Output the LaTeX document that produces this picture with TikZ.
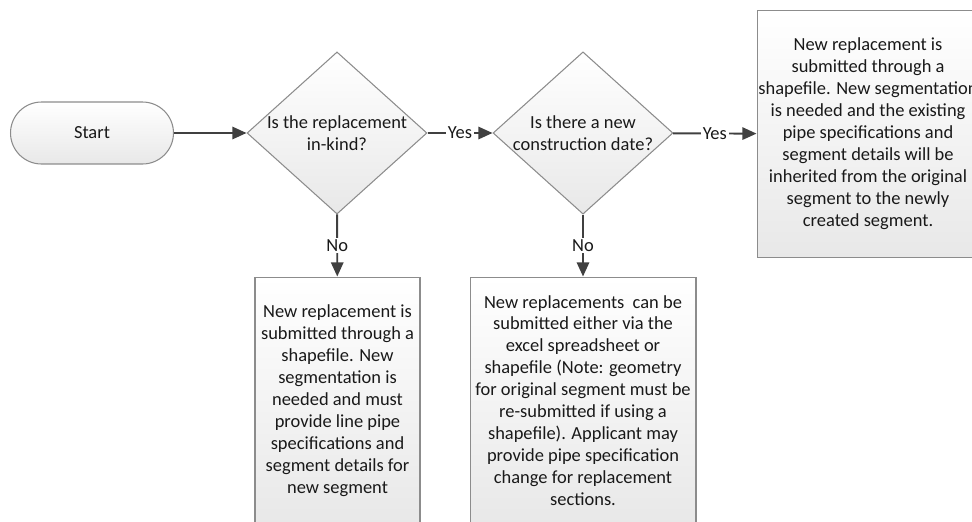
\documentclass[tikz,border=0pt]{standalone}
\usepackage{fontspec}
\setmainfont{Carlito}
\usetikzlibrary{arrows.meta, shapes.geometric, shapes.misc}

\begin{document}
\begin{tikzpicture}[x=0.02cm, y=-0.02cm,
  font=\fontsize{10.5pt}{12.5pt}\selectfont, text=black!90,
  block/.style={draw=black!45, line width=0.6pt, top color=white, bottom color=black!9, align=center, inner sep=0pt},
  terminal/.style={block, rounded rectangle, minimum width=3.26cm, minimum height=1.24cm},
  decision/.style={block, diamond, aspect=1.1, minimum width=3.6cm, minimum height=3.24cm},
  process/.style={block, rectangle, minimum height=4.94cm},
  flow/.style={draw=black!75, line width=1.1pt, -{Triangle[length=8pt,width=7pt]}},
  answer/.style={fill=white, inner sep=1pt}]
\useasboundingbox (0,0) rectangle (972,521);
% Start and the two questions
\node[terminal] (start) at (92,133) {Start};
\node[decision] (in-kind) at (337,133) {Is the replacement\\in-kind?};
\node[decision] (new-date) at (583,133) {Is there a new\\construction date?};
% Outcomes
\node[process, minimum width=4.44cm] (inherit) at (868,134) {New replacement is\\submitted through a\\shapefile. New segmentation\\is needed and the existing\\pipe specifications and\\segment details will be\\inherited from the original\\segment to the newly\\created segment.};
\node[process, minimum width=3.3cm] (new-seg) at (337.5,400.5) {New replacement is\\submitted through a\\shapefile. New\\segmentation is\\needed and must\\provide line pipe\\specifications and\\segment details for\\new segment};
\node[process, minimum width=4.52cm] (either) at (583,400.5) {New replacements\ \ can be\\submitted either via the\\excel spreadsheet or\\shapefile (Note: geometry\\for original segment must be\\re-submitted if using a\\shapefile). Applicant may\\provide pipe specification\\change for replacement\\sections.};
% Connectors
\draw[flow] (start) -- (in-kind);
\draw[flow] (in-kind) -- node[answer] {Yes} (new-date);
\draw[flow] (new-date) -- node[answer] {Yes} (inherit);
\draw[flow] (in-kind) -- node[answer] {No} (new-seg);
\draw[flow] (new-date) -- node[answer] {No} (either);
\end{tikzpicture}
\end{document}
